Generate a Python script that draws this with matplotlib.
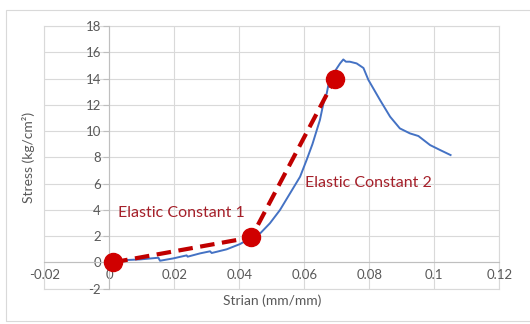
import matplotlib
matplotlib.use("Agg")
import matplotlib.pyplot as plt
from matplotlib.patches import Rectangle

plt.rcParams["font.family"] = ["Lato", "DejaVu Sans"]
plt.rcParams["axes.unicode_minus"] = False

# measured stress-strain curve
strain = [0.0012, 0.0049, 0.0094, 0.0151, 0.0156, 0.0197, 0.0238, 0.0241, 0.0279,
          0.0310, 0.0315, 0.0361, 0.0402, 0.0428, 0.0464, 0.0494, 0.0525, 0.0556,
          0.0587, 0.0607, 0.0625, 0.0648, 0.0661, 0.0669, 0.0674, 0.0690, 0.0710,
          0.0720, 0.0728, 0.0740, 0.0761, 0.0782, 0.0797, 0.0833, 0.0864, 0.0894,
          0.0925, 0.0951, 0.0987, 0.1018, 0.1050]
stress = [0.05, 0.17, 0.22, 0.35, 0.12, 0.30, 0.53, 0.43, 0.68,
          0.84, 0.71, 0.99, 1.39, 1.75, 2.20, 2.97, 3.98, 5.25,
          6.52, 7.79, 9.00, 10.84, 12.36, 12.87, 13.50, 14.40, 15.15,
          15.45, 15.28, 15.28, 15.15, 14.80, 13.90, 12.36, 11.09, 10.20,
          9.82, 9.62, 8.93, 8.55, 8.17]

# elastic constant fit points
fit_strain = [0.0012, 0.0437, 0.0695]
fit_stress = [0.0, 1.9, 14.0]

labels = ["Elastic Constant 1", "Elastic Constant 2"]
label_x = [0.0027, 0.0602]
label_y = [3.75, 6.04]

xticks = [-0.02, 0, 0.02, 0.04, 0.06, 0.08, 0.1, 0.12]
xtick_labels = ["-0.02", "0", "0.02", "0.04", "0.06", "0.08", "0.1", "0.12"]
yticks = [-2, 0, 2, 4, 6, 8, 10, 12, 14, 16, 18]
ytick_labels = ["-2", "0", "2", "4", "6", "8", "10", "12", "14", "16", "18"]

red = "#C00000"
grey = "#595959"

fig = plt.figure(figsize=(5.3, 3.24), dpi=100)
ax = fig.add_axes([0.0836, 0.1093, 0.8585, 0.8105])

fig.patches.append(Rectangle((0.0113, 0.009), 1.0, 0.96, transform=fig.transFigure,
                             fill=False, edgecolor="#D9D9D9", linewidth=0.8))

ax.plot(strain, stress, color="#4472C4", linewidth=1.4, zorder=3)
ax.plot(fit_strain, fit_stress, color=red, linewidth=3, dashes=(3.5, 1.8), zorder=4)
ax.plot(fit_strain, fit_stress, linestyle="none", marker="o", markersize=13,
        color="#D00000", zorder=5)

for t, x, y in zip(labels, label_x, label_y):
    ax.text(x, y, t, color="#A5202A", fontsize=11.5, va="center", ha="left")

ax.set_xlim(-0.02, 0.12)
ax.set_ylim(-2, 18)
ax.set_xticks(xticks)
ax.set_xticklabels(xtick_labels)
ax.set_yticks(yticks)
ax.set_yticklabels(ytick_labels)

ax.grid(True, color="#D9D9D9", linewidth=0.8)
ax.set_axisbelow(True)
for s in ["top", "right"]:
    ax.spines[s].set_visible(False)
ax.spines["left"].set_position(("data", 0))
ax.spines["bottom"].set_position(("data", 0))
for s in ["left", "bottom"]:
    ax.spines[s].set_color("#BFBFBF")
    ax.spines[s].set_linewidth(0.8)
# outer border lines of plot area (kept under the tick labels)
for xv in [-0.02, 0.12]:
    ax.axvline(xv, color="#D9D9D9", linewidth=0.8, clip_on=False, zorder=0.2)
for yv in [-2, 18]:
    ax.axhline(yv, color="#D9D9D9", linewidth=0.8, clip_on=False, zorder=0.2)

ax.tick_params(axis="x", length=0, pad=5, labelsize=9.5, labelcolor=grey)
ax.tick_params(axis="y", length=4, color="#BFBFBF", pad=2, labelsize=9.5, labelcolor=grey)

ax.set_ylabel("Stress (kg/cm²)", fontsize=10, color=grey)
ax.yaxis.set_label_coords(-0.02, 0.5)
ax.set_xlabel("Strian (mm/mm)", fontsize=10, color=grey)
ax.xaxis.set_label_coords(0.5, -0.045)
ax.xaxis.label.set_va("center")

fig.savefig("out.png", dpi=100, facecolor="white")
